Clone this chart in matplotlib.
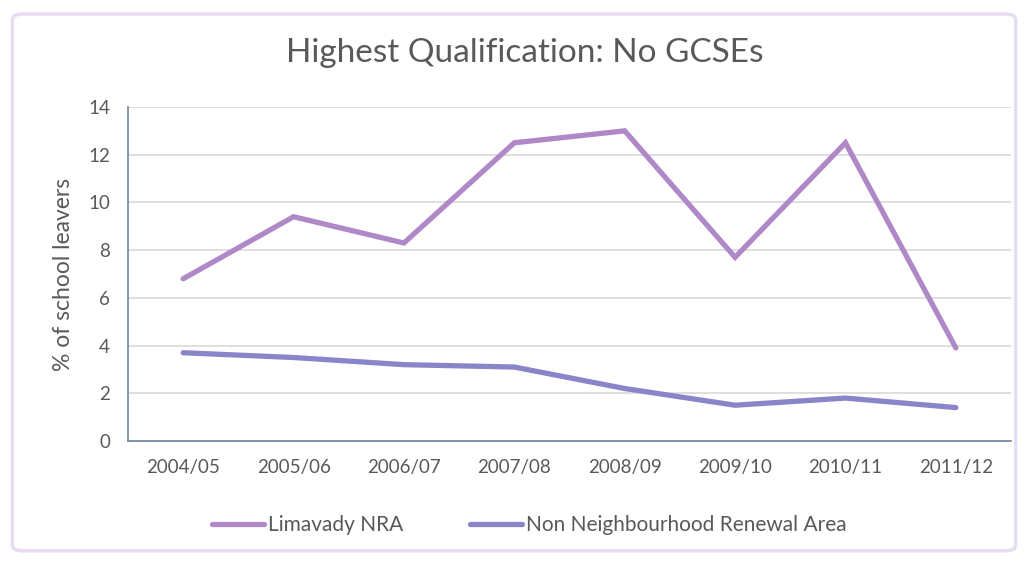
import matplotlib.pyplot as plt
from matplotlib.patches import FancyBboxPatch
import numpy as np

plt.rcParams['font.family'] = ['Lato', 'DejaVu Sans']

years = ['2004/05', '2005/06', '2006/07', '2007/08',
         '2008/09', '2009/10', '2010/11', '2011/12']
limavady_nra = [6.8, 9.4, 8.3, 12.5, 13.0, 7.7, 12.5, 3.9]
non_nra = [3.7, 3.5, 3.2, 3.1, 2.2, 1.5, 1.8, 1.4]

text_col = '#595959'

fig = plt.figure(figsize=(10.28, 5.62), dpi=100)

# lavender frame round the chart
frame = FancyBboxPatch((0.012, 0.02), 0.976, 0.955,
                       boxstyle='round,pad=0,rounding_size=0.01',
                       transform=fig.transFigure, facecolor='none',
                       edgecolor='#E6DDF2', linewidth=2.5, zorder=-10)
fig.patches.append(frame)

ax = fig.add_axes([0.1245, 0.2153, 0.859, 0.5943])
x = np.arange(len(years))

ax.plot(x, limavady_nra, color='#AF88C7', lw=3.8,
        solid_capstyle='round', solid_joinstyle='miter', label='Limavady NRA')
ax.plot(x, non_nra, color='#8985C8', lw=3.8,
        solid_capstyle='round', solid_joinstyle='miter',
        label='Non Neighbourhood Renewal Area')

ax.set_xlim(-0.5, 7.5)
ax.set_ylim(0, 14)
ax.set_yticks(range(0, 15, 2))
ax.set_xticks(x)
ax.set_xticklabels(years)
ax.tick_params(axis='both', length=0, labelsize=13.5, colors=text_col)
ax.tick_params(axis='x', pad=13)
ax.tick_params(axis='y', pad=13)

ax.grid(axis='y', color='#D9D9D9', lw=1.2)
ax.set_axisbelow(True)
for side in ['top', 'right']:
    ax.spines[side].set_visible(False)
for side in ['left', 'bottom']:
    ax.spines[side].set_color('#6F83A6')
    ax.spines[side].set_linewidth(1.2)
ax.patch.set_alpha(0)

ax.set_ylabel('% of school leavers', fontsize=16.5, color=text_col, labelpad=10)
fig.text(0.5107, 0.905, 'Highest Qualification: No GCSEs', ha='center',
         va='center', fontsize=24, color=text_col)

fig.legend(loc='center', bbox_to_anchor=(0.515, 0.066), ncol=2, frameon=False,
           fontsize=15, labelcolor=text_col, handlelength=2.5,
           handletextpad=0.2, columnspacing=3.2)

fig.savefig('out.png', dpi=100)
